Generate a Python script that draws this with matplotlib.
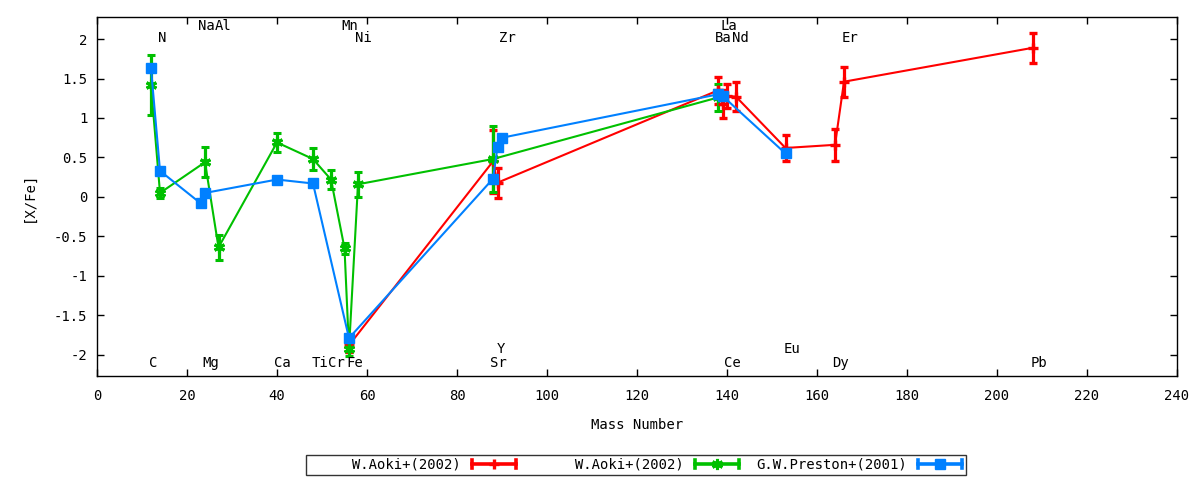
import matplotlib
matplotlib.use("Agg")
import matplotlib.pyplot as plt
from matplotlib.lines import Line2D
from matplotlib.legend_handler import HandlerBase
from matplotlib.ticker import FuncFormatter, MultipleLocator

# ---------------- data ----------------
red_label = "W.Aoki+(2002)"
red_mass = [56, 88, 89, 138, 139, 140, 142, 153, 164, 166, 208]
red_val = [-1.88, 0.45, 0.18, 1.35, 1.18, 1.28, 1.27, 0.62, 0.66, 1.46, 1.89]
red_err = [0.08, 0.40, 0.19, 0.17, 0.18, 0.15, 0.18, 0.17, 0.20, 0.19, 0.19]

green_label = "W.Aoki+(2002)"
green_mass = [12, 14, 24, 27, 40, 48, 52, 55, 56, 58, 88, 138]
green_val = [1.42, 0.05, 0.44, -0.64, 0.69, 0.48, 0.22, -0.65, -1.93, 0.16, 0.48, 1.26]
green_err = [0.38, 0.06, 0.19, 0.16, 0.12, 0.14, 0.12, 0.07, 0.09, 0.16, 0.42, 0.17]

blue_label = "G.W.Preston+(2001)"
blue_mass = [12, 14, 23, 24, 40, 48, 56, 88, 89, 90, 138, 139, 153]
blue_val = [1.63, 0.33, -0.08, 0.05, 0.22, 0.17, -1.79, 0.23, 0.63, 0.75, 1.30, 1.28, 0.55]
blue_err = [0, 0, 0, 0, 0, 0, 0, 0, 0, 0, 0, 0, 0]

elem_labels = ['N', 'Na', 'Al', 'Mn', 'Ni', 'Zr', 'La', 'Ba', 'Nd', 'Er',
               'C', 'Mg', 'Ca', 'Ti', 'Cr', 'Fe', 'Y', 'Sr', 'Ce', 'Eu', 'Dy', 'Pb']
elem_x = [14.4, 24.4, 28.1, 56.2, 59.2, 91.2, 140.5, 139.1, 142.9, 167.3,
          12.4, 25.3, 41.2, 49.6, 53.3, 57.2, 89.7, 89.1, 141.2, 154.4, 165.3, 209.3]
elem_y = [2.02, 2.16, 2.16, 2.16, 2.02, 2.02, 2.17, 2.02, 2.02, 2.02,
          -2.11, -2.11, -2.11, -2.11, -2.11, -2.11, -1.93, -2.11, -2.11, -1.93, -2.11, -2.11]

x_label = "Mass Number"
y_label = "[X/Fe]"

# ---------------- style ----------------
FONT = "DejaVu Sans Mono"
FS = 10
plt.rcParams['font.family'] = [FONT]
plt.rcParams['font.size'] = FS
plt.rcParams['axes.unicode_minus'] = False

RED = "#ff0000"
GREEN = "#00c000"
BLUE = "#0080ff"

fig = plt.figure(figsize=(12, 4.8), dpi=100)
ax = fig.add_axes([97/1200, 1-376/480, 1080/1200, 359/480])

series = [
    (red_mass, red_val, red_err, RED, '+', 7, 2.4),
    (green_mass, green_val, green_err, GREEN, (6, 2, 0), 8, 2.2),
    (blue_mass, blue_val, blue_err, BLUE, 's', 7, 1.0),
]
for mass, val, err, col, mk, ms, mew in series:
    ax.errorbar(mass, val, yerr=err, color=col, lw=1.5, elinewidth=2.3,
                capsize=3, capthick=2.6, marker=mk, ms=ms, mew=mew,
                mfc=col, mec=col)

for t, xx, yy in zip(elem_labels, elem_x, elem_y):
    ax.text(xx, yy, t, ha='center', va='center', fontsize=FS, color='black')

ax.set_xlim(0, 240)
ax.set_ylim(-2.27, 2.28)
ax.xaxis.set_major_locator(MultipleLocator(20))
ax.yaxis.set_major_locator(MultipleLocator(0.5))
ax.yaxis.set_major_formatter(FuncFormatter(lambda v, p: "%g" % round(v, 2)))
ax.tick_params(direction='in', length=5, width=1, top=True, right=True,
               labelsize=FS, colors='black')
ax.tick_params(axis='x', pad=9)
ax.tick_params(axis='y', pad=7)
for s in ax.spines.values():
    s.set_linewidth(1.0)
    s.set_color('black')

ax.set_xlabel(x_label, fontsize=FS)
ax.xaxis.set_label_coords(0.5, -0.118)
ax.set_ylabel(y_label, fontsize=FS)
ax.yaxis.set_label_coords(-0.057, 0.5)


# ---------------- legend (gnuplot style) ----------------
class ErrLineHandler(HandlerBase):
    def create_artists(self, legend, orig_handle, xdescent, ydescent,
                       width, height, fontsize, trans):
        x0 = -xdescent
        x1 = -xdescent + width
        yc = -ydescent + height / 2.0
        c = orig_handle.get_color()
        capw = height * 0.42
        arts = [Line2D([x0, x1], [yc, yc], color=c, lw=2.6)]
        for xx in (x0, x1):
            arts.append(Line2D([xx, xx], [yc - capw, yc + capw], color=c, lw=2.6))
        arts.append(Line2D([(x0 + x1) / 2.0], [yc], marker=orig_handle.get_marker(),
                           ms=orig_handle.get_markersize(),
                           mew=orig_handle.get_markeredgewidth(),
                           color=c, mfc=c, mec=c, linestyle='none'))
        for a in arts:
            a.set_transform(trans)
        return arts


labels = [red_label, green_label, blue_label]
width = max(len(s) for s in labels)
labels = [s.rjust(width) for s in labels]
handles = [Line2D([], [], color=col, marker=mk, ms=ms, mew=mew)
           for (_, _, _, col, mk, ms, mew) in series]
h = ErrLineHandler()
leg = fig.legend(handles, labels, loc='center',
                 bbox_to_anchor=(636/1200, 1 - 465/480), ncol=3,
                 markerfirst=False, handlelength=3.2, handletextpad=0.8,
                 columnspacing=1.2, borderpad=0.25, fontsize=FS,
                 fancybox=False, frameon=True,
                 handler_map={hh: h for hh in handles})
leg.get_frame().set_edgecolor('black')
leg.get_frame().set_linewidth(1.0)

fig.savefig("out.png", dpi=100, facecolor='white')
